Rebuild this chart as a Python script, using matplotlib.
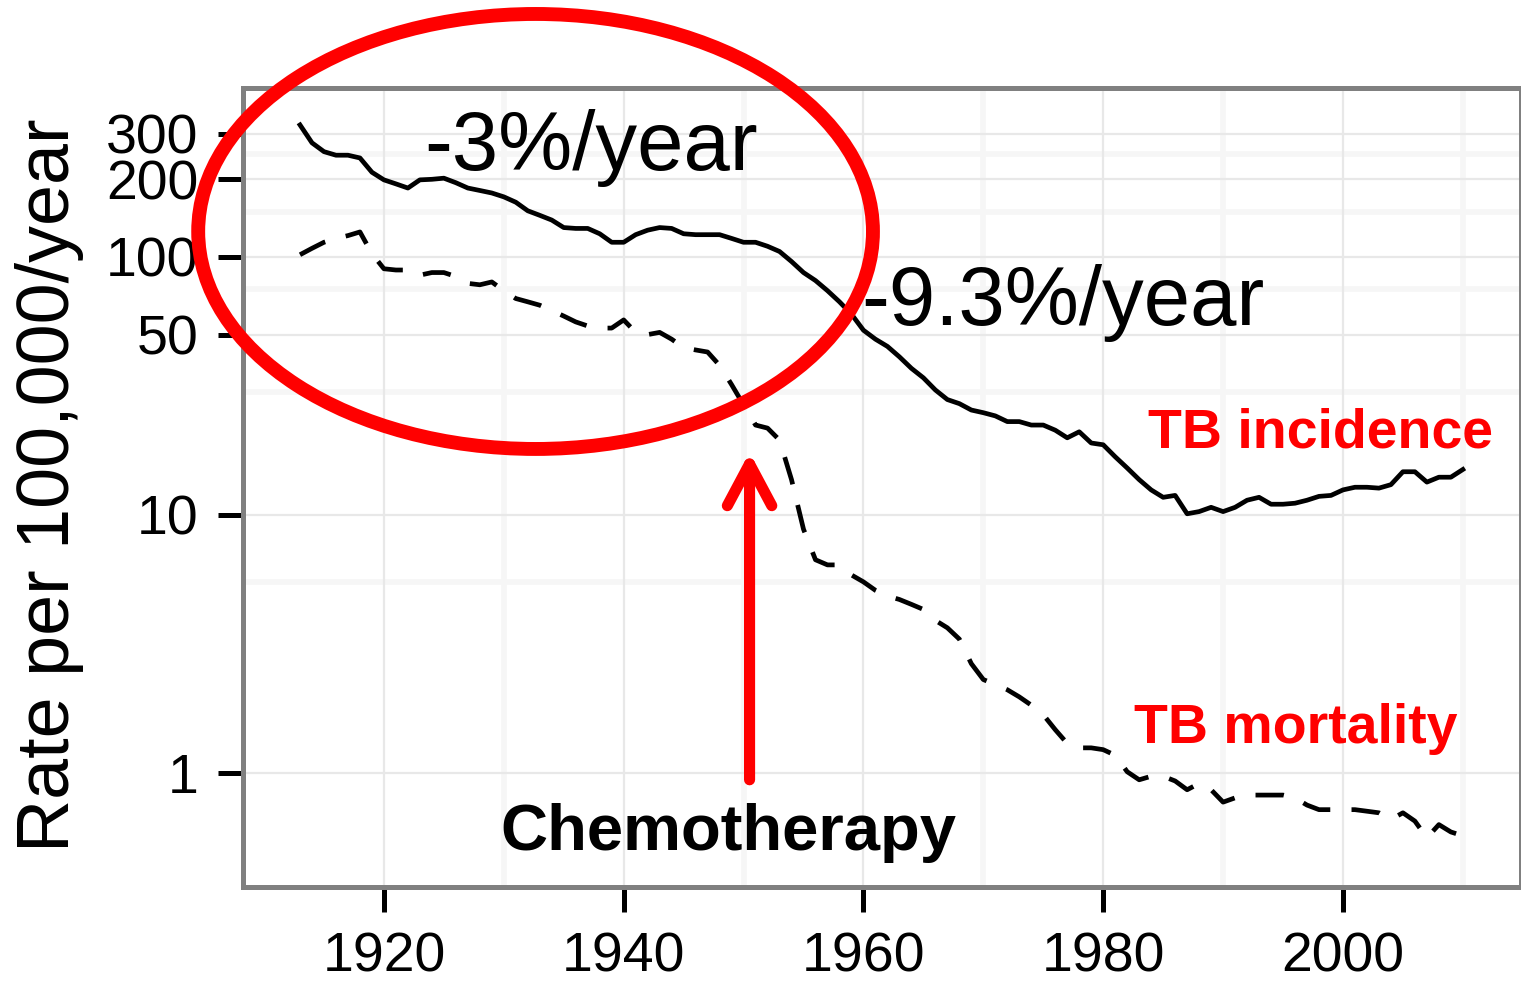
import matplotlib
matplotlib.use("Agg")
import matplotlib.pyplot as plt
from matplotlib.patches import Ellipse

plt.rcParams["font.family"] = ["Liberation Sans", "DejaVu Sans"]

# ---- data ----
years = list(range(1913, 2011))

incidence = [
  325, 277, 256, 248, 248, 242, 213, 199, 192, 185,   # 1913-1922
  199, 200, 202, 194, 185, 181, 177, 171, 163, 151,   # 1923-1932
  145, 139, 130, 129, 129, 123, 114, 114, 122, 127,   # 1933-1942
  130, 129, 123, 122, 122, 122, 118, 114, 114, 110,   # 1943-1952
  105, 96, 87, 81, 74, 67, 60, 52, 48, 45,            # 1953-1962
  41, 37, 34, 30.5, 28, 27, 25.5, 24.9, 24.2, 23,     # 1963-1972
  23, 22.3, 22.3, 21.3, 19.9, 21, 19, 18.7, 16.8, 15.2,  # 1973-1982
  13.7, 12.5, 11.7, 11.9, 10.1, 10.3, 10.7, 10.3, 10.7, 11.4,  # 1983-1992
  11.7, 11, 11, 11.1, 11.4, 11.8, 11.9, 12.5, 12.8, 12.8,  # 1993-2002
  12.7, 13.1, 14.7, 14.7, 13.4, 14, 14, 15,           # 2003-2010
]

mortality = [
  102, 108, 114, 118, 121, 125, 103, 90, 89, 89,      # 1913-1922
  85, 87, 87, 84, 79, 78, 80, 74, 69, 67,             # 1923-1932
  65, 62, 59, 56, 54, 53, 53, 57, 51, 50,             # 1933-1942
  51, 48, 44.5, 43.6, 42.8, 38, 32, 26.7, 22.3, 21.7,  # 1943-1952
  19.5, 13.7, 8.8, 6.7, 6.4, 6.4, 5.85, 5.5, 5.1, 4.85,  # 1953-1962
  4.7, 4.5, 4.3, 3.9, 3.65, 3.3, 2.65, 2.3, 2.2, 2.1,    # 1963-1972
  1.97, 1.83, 1.68, 1.47, 1.3, 1.25, 1.25, 1.23, 1.17, 1.01,  # 1973-1982
  0.94, 0.97, 0.97, 0.93, 0.86, 0.91, 0.86, 0.77, 0.80, 0.82,  # 1983-1992
  0.82, 0.82, 0.82, 0.80, 0.75, 0.72, 0.72, 0.72, 0.72, 0.71,  # 1993-2002
  0.70, 0.66, 0.70, 0.65, 0.56, 0.63, 0.59, 0.57,     # 2003-2010
]

y_breaks = [1, 10, 50, 100, 200, 300]
y_minor = [5.5, 30, 75, 150, 250]
x_breaks = [1920, 1940, 1960, 1980, 2000]
x_minor = [1930, 1950, 1970, 1990, 2010]

fig = plt.figure(figsize=(15.21, 9.85), dpi=100)
ax = fig.add_axes([0.1598, 0.0995, 0.8402, 0.8112])

ax.set_yscale("log")
ax.set_xlim(1908.25, 2014.85)
ax.set_ylim(0.361, 452)

# grid, ggplot theme_bw style
for v in y_minor:
  ax.axhline(v, color="#f6f6f6", lw=4, zorder=0)
for v in x_minor:
  ax.axvline(v, color="#f6f6f6", lw=4, zorder=0)
for v in y_breaks:
  ax.axhline(v, color="#e8e8e8", lw=1.6, zorder=0.5)
for v in x_breaks:
  ax.axvline(v, color="#e8e8e8", lw=1.6, zorder=0.5)

ax.plot(years, incidence, color="black", lw=3.4, zorder=3)
ax.plot(years, mortality, color="black", lw=3.4, dashes=(6, 4.5), zorder=3)

ax.set_yticks(y_breaks)
ax.set_yticklabels([str(v) for v in y_breaks])
ax.yaxis.set_minor_locator(matplotlib.ticker.NullLocator())
ax.set_xticks(x_breaks)
ax.tick_params(axis="both", which="major", length=18, width=3.6, color="black",
               labelsize=40, pad=14, labelcolor="black")

for s in ax.spines.values():
  s.set_color("#808080")
  s.set_linewidth(3.6)
  s.set_zorder(4)

fig.text(50 / 1521, 1 - 485 / 985, "Rate per 100,000/year", rotation=90,
         ha="center", va="center", fontsize=53)

# annotations
ax.text(1923.4, 217, "-3%/year", fontsize=60, ha="left", va="baseline", zorder=2)
ax.text(1959.8, 54.5, "-9.3%/year", fontsize=60, ha="left", va="baseline", zorder=2)
ax.text(1983.7, 18.2, "TB incidence", fontsize=40, fontweight="bold", color="red",
        ha="left", va="baseline")
ax.text(1982.6, 1.31, "TB mortality", fontsize=40, fontweight="bold", color="red",
        ha="left", va="baseline")
ax.text(1929.7, 0.503, "Chemotherapy", fontsize=47, fontweight="bold", color="black",
        ha="left", va="baseline")

ax.annotate("", xy=(1950.5, 17.5), xytext=(1950.5, 0.94),
            arrowprops=dict(arrowstyle="->,head_length=0.75,head_width=0.4",
                            color="red", lw=8, mutation_scale=40,
                            shrinkA=0, shrinkB=0))

ell = Ellipse((0.2289, 0.8204), 0.528, 0.5444, transform=ax.transAxes,
              fill=False, edgecolor="red", lw=10, clip_on=False, zorder=6)
ax.add_patch(ell)

fig.savefig("out.png", dpi=100)
